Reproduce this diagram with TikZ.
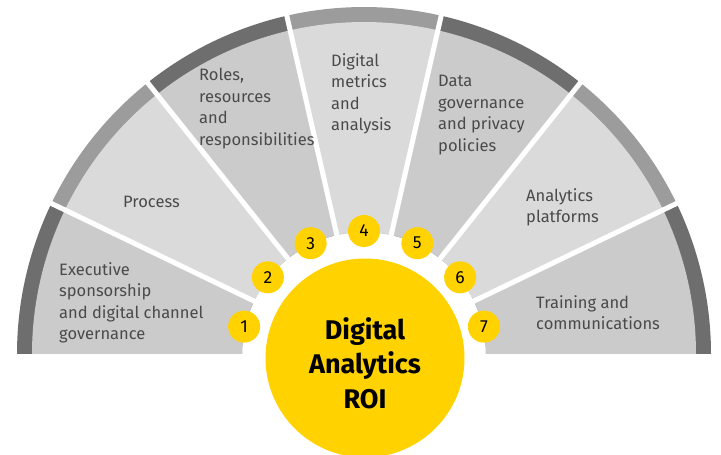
\documentclass[tikz,border=0pt]{standalone}
\usepackage{fontspec}
\setmainfont{Fira Sans}
\usetikzlibrary{positioning,calc}
\definecolor{bandA}{HTML}{6E6E6E}
\definecolor{bandB}{HTML}{9C9C9C}
\definecolor{wedgeA}{HTML}{CBCBCB}
\definecolor{wedgeB}{HTML}{DADADA}
\definecolor{roi}{HTML}{FFD200}
\definecolor{ink}{HTML}{4A4A4A}

\begin{document}
\begin{tikzpicture}[x=1pt,y=1pt,
  pillar/.style={text=ink, align=left, anchor=north west, inner sep=0pt,
    font=\fontsize{16.5}{21.5}\selectfont},
  badge/.style={circle, fill=roi, minimum size=32pt, inner sep=0pt,
    font=\fontsize{17.5}{17.5}\selectfont}]
  \useasboundingbox (0,0) rectangle (721,455);
  \coordinate (c) at (364,101);

  % seven wedges, each with its outer band
  \foreach \k in {1,...,7} {
    \pgfmathsetmacro\a{180-(\k-1)*180/7}
    \pgfmathsetmacro\b{180-\k*180/7}
    \ifodd\k \def\bc{bandA}\def\wc{wedgeA}\else \def\bc{bandB}\def\wc{wedgeB}\fi
    \fill[\bc] ($(c)+(\a:122)$) -- ($(c)+(\a:347)$)
      arc[start angle=\a, end angle=\b, radius=347] -- ($(c)+(\b:122)$)
      arc[start angle=\b, end angle=\a, radius=122] -- cycle;
    \fill[\wc] ($(c)+(\a:122)$) -- ($(c)+(\a:332)$)
      arc[start angle=\a, end angle=\b, radius=332] -- ($(c)+(\b:122)$)
      arc[start angle=\b, end angle=\a, radius=122] -- cycle;
  }
  % white gaps between wedges
  \foreach \k in {1,...,6}
    \draw[white, line width=5pt] (c) -- ($(c)+(180-\k*180/7:352)$);

  \node[circle, fill=roi, minimum size=199pt, inner sep=0pt] (hub) at (365,97) {};
  \node[align=center, font=\fontsize{27}{34.5}\selectfont\bfseries]
    (hubtext) at ([yshift=-5pt]hub.center) {Digital\\Analytics\\ROI};

  \foreach \k in {1,...,7}
    \node[badge] (n\k) at ($(c)+(180-\k*180/7+90/7:123)$) {\k};

  \node[pillar] (exec) at (59,193) {Executive\\sponsorship\\and digital channel\\governance};
  \node[pillar, anchor=west] (proc) at (123,253) {Process};
  \node[pillar] (roles) at (199,387) {Roles,\\resources\\and\\responsibilities};
  \node[pillar] (metrics) at (331,402) {Digital\\metrics\\and\\analysis};
  \node[pillar] (privacy) at (438,380) {Data\\governance\\and privacy\\policies};
  \node[pillar] (platforms) at (526,267) {Analytics\\platforms};
  \node[pillar] (training) at (536,160) {Training and\\communications};
\end{tikzpicture}
\end{document}
